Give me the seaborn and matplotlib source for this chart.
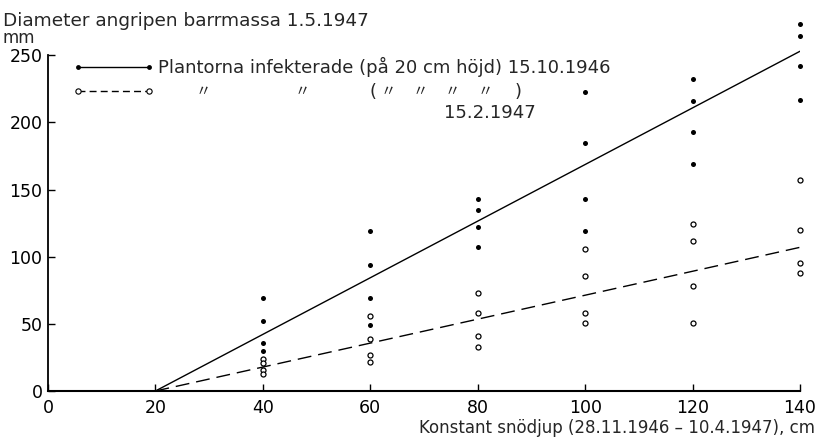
import matplotlib
matplotlib.use("Agg")
import matplotlib.pyplot as plt
from matplotlib.lines import Line2D
import numpy as np
import pandas as pd
import seaborn as sns

# Snow depth (cm) at which the plants stood
snow_depth = [40, 60, 80, 100, 120, 140]

# Diameter of attacked needle mass (mm), four plants per depth
infected_oct = [
    [69, 52, 36, 30],
    [119, 94, 69, 49],
    [143, 135, 122, 107],
    [223, 185, 143, 119],
    [232, 216, 193, 169],
    [273, 264, 242, 217],
]
infected_feb = [
    [24, 21, 16, 13],
    [56, 38.5, 27, 21.5],
    [73, 58, 41, 33],
    [106, 86, 58, 51],
    [124, 112, 78, 51],
    [157, 120, 95, 88],
]

# Fitted straight lines (start and end of each)
fit_depth = [20, 140]
fit_oct = [0, 253]
fit_feb = [0, 107]

x_ticks = [0, 20, 40, 60, 80, 100, 120, 140]
y_ticks = [0, 50, 100, 150, 200, 250]

label_oct = "Plantorna infekterade (på 20 cm höjd) 15.10.1946"
label_feb_date = "15.2.1947"
ditto = "\u3003"
y_title = "Diameter angripen barrmassa 1.5.1947"
y_unit = "mm"
x_title = "Konstant snödjup (28.11.1946 \u2013 10.4.1947), cm"


def long_form(values):
    rows = []
    for depth, vals in zip(snow_depth, values):
        for v in vals:
            rows.append({"depth": depth, "diameter": v})
    return pd.DataFrame(rows)


df_oct = long_form(infected_oct)
df_feb = long_form(infected_feb)

sns.set_style("ticks")
plt.rcParams["font.family"] = ["DejaVu Sans"]

fig = plt.figure(figsize=(8.19, 4.40), dpi=100)
ax = fig.add_axes([48 / 819, 49 / 440, 752 / 819, 376 / 440])

sns.lineplot(x=fit_depth, y=fit_oct, ax=ax, color="black", lw=1.0)
sns.lineplot(x=fit_depth, y=fit_feb, ax=ax, color="black", lw=1.0,
             linestyle=(0, (10, 5)))

sns.scatterplot(data=df_oct, x="depth", y="diameter", ax=ax, color="black",
                s=13, linewidth=0, clip_on=False, zorder=3)
sns.scatterplot(data=df_feb, x="depth", y="diameter", ax=ax, color="white",
                edgecolor="black", s=13, linewidth=0.9, clip_on=False, zorder=3)

ax.set_xlim(0, 140)
ax.set_ylim(0, 280)
ax.set_xticks(x_ticks)
ax.set_yticks(y_ticks)
ax.set_xlabel("")
ax.set_ylabel("")
for s in ["top", "right"]:
    ax.spines[s].set_visible(False)
ax.spines["left"].set_bounds(0, 250)
ax.spines["left"].set_linewidth(1.3)
ax.spines["bottom"].set_linewidth(1.5)
ax.spines["left"].set_color("black")
ax.spines["bottom"].set_color("black")
ax.tick_params(axis="both", direction="in", length=5, width=1.0,
               colors="black", labelsize=12.5)
ax.tick_params(axis="x", pad=6)
ax.tick_params(axis="y", pad=4)

# Legend with a dot at each end of the sample lines
handles = [
    Line2D([], [], color="black", lw=1.0, marker="o", markersize=3.5,
           markerfacecolor="black", markeredgewidth=0),
    Line2D([], [], color="black", lw=1.0, linestyle=(0, (5, 3)), marker="o",
           markersize=3.8, markerfacecolor="white", markeredgecolor="black",
           markeredgewidth=0.8),
]
ax.legend(handles, [label_oct, ""], numpoints=2, frameon=False,
          loc="upper left", bbox_to_anchor=(0.033, 0.888), borderaxespad=0,
          borderpad=0, handlelength=4.5, handletextpad=0.2,
          labelspacing=0.35, fontsize=13)

# Ditto marks for the second legend entry
ditto_font = ["Noto Sans CJK JP", "DejaVu Sans"]
ditto_y = 223
for xd in [28.9, 47.3]:
    ax.text(xd, ditto_y, ditto, ha="center", va="center", fontsize=11,
            family=ditto_font)
ax.text(60.5, ditto_y, "(", ha="center", va="center", fontsize=13)
ax.text(87.5, ditto_y, ")", ha="center", va="center", fontsize=13)
for xd in [63.3, 69.3, 75.3, 81.3]:
    ax.text(xd, ditto_y, ditto, ha="center", va="center", fontsize=11,
            family=ditto_font)
ax.text(82.3, 207, label_feb_date, ha="center", va="center", fontsize=13)

fig.text(3 / 819, 1 - 21 / 440, y_title, ha="left", va="center", fontsize=13.3)
fig.text(3 / 819, 1 - 38 / 440, y_unit, ha="left", va="center", fontsize=12)
fig.text(815 / 819, 1 - 428 / 440, x_title, ha="right", va="center",
         fontsize=12)

fig.savefig("out.png", dpi=100)
